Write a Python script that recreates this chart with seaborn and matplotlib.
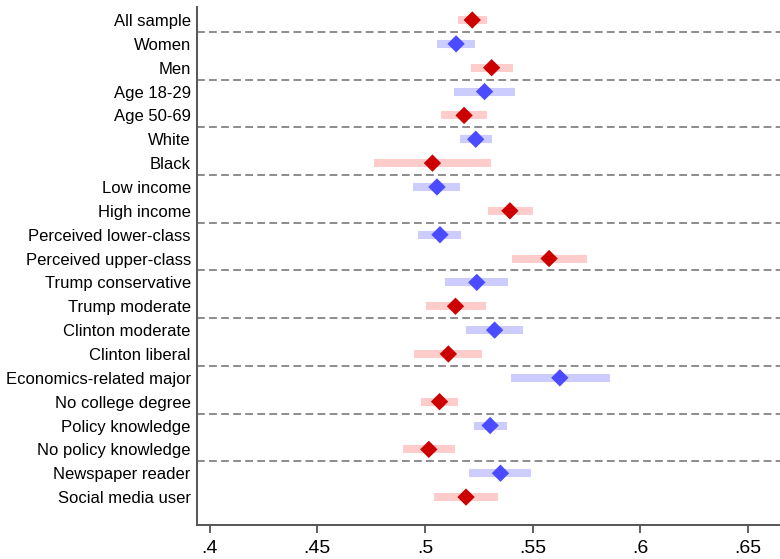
import matplotlib
matplotlib.use("Agg")
import matplotlib.pyplot as plt
import seaborn as sns
import pandas as pd
import numpy as np

groups = [
    "All sample", "Women", "Men", "Age 18-29", "Age 50-69", "White", "Black",
    "Low income", "High income", "Perceived lower-class", "Perceived upper-class",
    "Trump conservative", "Trump moderate", "Clinton moderate", "Clinton liberal",
    "Economics-related major", "No college degree", "Policy knowledge",
    "No policy knowledge", "Newspaper reader", "Social media user",
]
estimate = [
    0.5220, 0.5145, 0.5310, 0.5277, 0.5182, 0.5236, 0.5035,
    0.5056, 0.5395, 0.5070, 0.5577,
    0.5241, 0.5142, 0.5324, 0.5109,
    0.5627, 0.5068, 0.5303,
    0.5018, 0.5351, 0.5191,
]
ci_low = [
    0.5156, 0.5058, 0.5212, 0.5136, 0.5076, 0.5162, 0.4762,
    0.4944, 0.5291, 0.4970, 0.5403,
    0.5095, 0.5003, 0.5191, 0.4951,
    0.5399, 0.4980, 0.5226,
    0.4897, 0.5206, 0.5042,
]
ci_high = [
    0.5288, 0.5235, 0.5409, 0.5420, 0.5288, 0.5310, 0.5306,
    0.5164, 0.5500, 0.5167, 0.5755,
    0.5386, 0.5285, 0.5456, 0.5264,
    0.5858, 0.5156, 0.5382,
    0.5141, 0.5495, 0.5338,
]
x_ticks = [0.40, 0.45, 0.50, 0.55, 0.60, 0.65]
x_tick_labels = [".4", ".45", ".5", ".55", ".6", ".65"]

df = pd.DataFrame({
    "group": groups,
    "est": estimate,
    "lo": ci_low,
    "hi": ci_high,
})
df["pos"] = np.arange(len(df))
df["tone"] = np.where(df["pos"] % 2 == 0, "red", "blue")

point_colors = {"red": "#CC0000", "blue": "#4B4BFF"}
band_colors = {"red": "#FFCCCC", "blue": "#CCCCFF"}

sns.set_theme(style="white")
plt.rcParams["font.family"] = ["Liberation Sans", "DejaVu Sans"]

fig = plt.figure(figsize=(7.8, 5.59), dpi=100)
ax = fig.add_axes([197 / 780, 1 - 525 / 559, 1 - 197 / 780, (525 - 7) / 559])

# separators between pairs of groups
for p in df["pos"][::2][:-1]:
    ax.axhline(p + 0.5, color="#8C8C8C", lw=1.4, ls=(0, (4, 2.2)), zorder=1)

# confidence bands
for tone, sub in df.groupby("tone"):
    ax.hlines(sub["pos"], sub["lo"], sub["hi"], color=band_colors[tone],
              lw=5.8, capstyle="butt", zorder=2)

sns.scatterplot(data=df, x="est", y="pos", hue="tone", palette=point_colors,
                marker="D", s=78, linewidth=0, legend=False, ax=ax, zorder=3)

ax.set_xlim(0.4 - 13 / 2200, 0.4 + 583 / 2200)
ax.set_ylim(len(df) - 1 + 1.17, -0.545)
ax.set_yticks(df["pos"])
ax.set_yticklabels(df["group"], fontsize=12, color="black")
ax.set_xticks(x_ticks)
ax.set_xticklabels(x_tick_labels, fontsize=14, color="black")
ax.set_xlabel("")
ax.set_ylabel("")

ax.tick_params(axis="y", length=0, pad=4.5)
ax.tick_params(axis="x", length=6, width=1.3, color="#555555", pad=5,
               bottom=True, direction="out")
for side in ("top", "right"):
    ax.spines[side].set_visible(False)
for side in ("left", "bottom"):
    ax.spines[side].set_color("#555555")
    ax.spines[side].set_linewidth(1.4)

fig.savefig("out.png", dpi=100)
